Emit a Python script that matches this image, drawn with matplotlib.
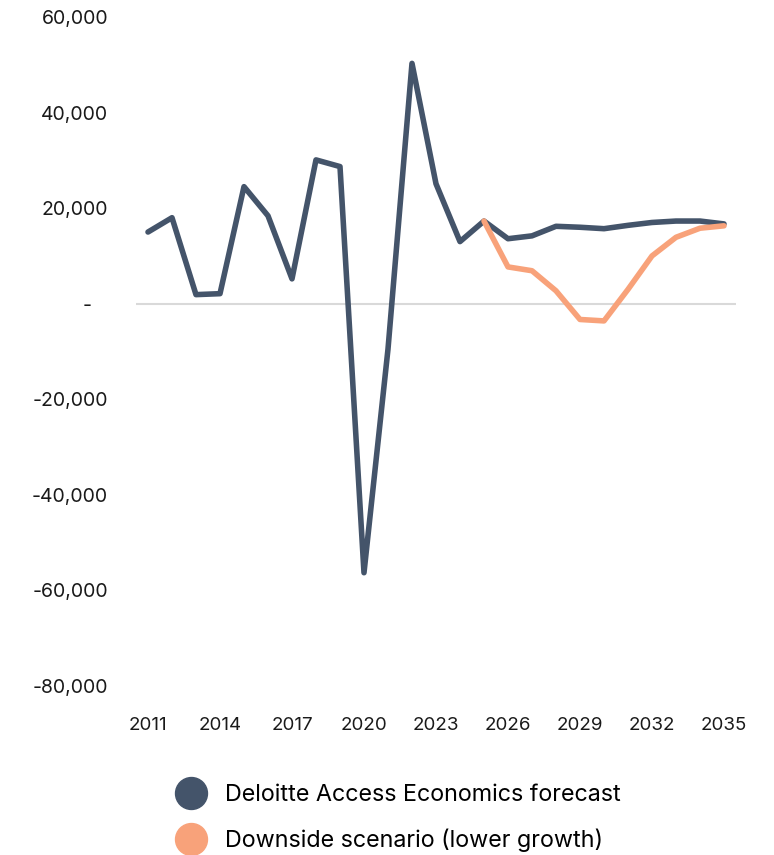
import numpy as np
import matplotlib.pyplot as plt
from matplotlib.lines import Line2D
from matplotlib.ticker import FuncFormatter

# Data
years = np.arange(2011, 2036)
forecast = [15000, 18000, 1900, 2100, 24500, 18400, 5200, 30100, 28700, -56300,
            -9500, 50300, 25100, 13000, 17300, 13600, 14200, 16200, 16000, 15700,
            16400, 17000, 17300, 17300, 16700]
downside_years = np.arange(2025, 2036)
downside = [17300, 7700, 6900, 2700, -3300, -3600, 3000, 10000, 13900, 15800, 16300]

x_ticks = list(range(2011, 2036, 3))
y_ticks = [-80000, -60000, -40000, -20000, 0, 20000, 40000, 60000]

dark = "#44546A"
orange = "#F8A27A"

plt.rcParams["font.family"] = ["Inter", "DejaVu Sans"]

fig = plt.figure(figsize=(7.74, 8.55), dpi=100)
ax = fig.add_axes([0.1757, 0.1977, 0.7752, 0.7824])

ax.axhline(0, color="#d9d9d9", linewidth=1.5, zorder=1)
ax.plot(years, forecast, color=dark, linewidth=4.0, solid_capstyle="round",
        solid_joinstyle="round", zorder=2)
ax.plot(downside_years, downside, color=orange, linewidth=4.0, solid_capstyle="round",
        solid_joinstyle="round", zorder=3)

ax.set_xlim(2010.5, 2035.5)
ax.set_ylim(-80000, 60000)
ax.set_xticks(x_ticks)
ax.set_yticks(y_ticks)


def fmt(v, pos):
    if v == 0:
        return "-   "
    return f"{v:,.0f}".replace("\u2212", "-")


ax.yaxis.set_major_formatter(FuncFormatter(fmt))
ax.tick_params(axis="both", length=0, colors="#1a1a1a")
ax.tick_params(axis="y", pad=20, labelsize=14)
ax.tick_params(axis="x", pad=22, labelsize=13.5)
for s in ax.spines.values():
    s.set_visible(False)

handles = [
    Line2D([], [], linestyle="none", marker="o", markersize=23, color=dark),
    Line2D([], [], linestyle="none", marker="o", markersize=23, color=orange),
]
labels = ["Deloitte Access Economics forecast", "Downside scenario (lower growth)"]
fig.legend(handles, labels, loc="upper left", bbox_to_anchor=(0.208, 0.0965),
           frameon=False, fontsize=16.8, handletextpad=0.68, labelspacing=0.96,
           borderpad=0, handlelength=1.55)

fig.savefig("out.png", dpi=100)
